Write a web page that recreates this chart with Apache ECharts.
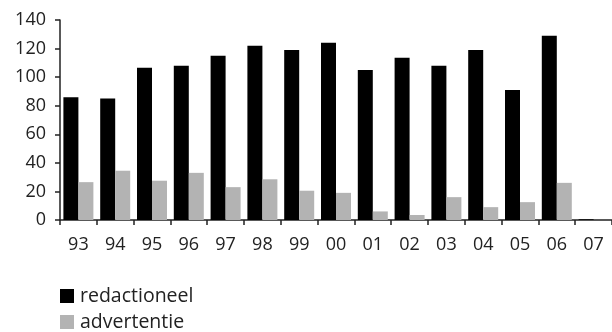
<!DOCTYPE html>
<html>
<head>
<meta charset="utf-8">
<script src="https://cdn.jsdelivr.net/npm/echarts@6/dist/echarts.min.js"></script>
<style>
html,body{margin:0;padding:0;background:#fff;}
#chart{width:612px;height:332px;}
</style>
</head>
<body>
<div id="chart"></div>
<script>
const categories = ['93','94','95','96','97','98','99','00','01','02','03','04','05','06','07'];
const redactioneel = [86, 85, 106.5, 108, 115, 122, 119, 124, 105, 113.5, 108, 119, 91, 129, 0.5];
const advertentie = [26.5, 34.5, 27.5, 33, 23, 28.5, 20.5, 19, 6, 3.5, 16, 9, 12.5, 26, 0];
const seriesNames = ['redactioneel', 'advertentie'];

const FONT = '"Open Sans", sans-serif';
const chart = echarts.init(document.getElementById('chart'), null, {renderer: 'canvas'});
chart.setOption({
  animation: false,
  backgroundColor: '#fff',
  grid: {left: 60, top: 20, width: 555, height: 200, containLabel: false},
  legend: {
    orient: 'vertical', left: 60, top: 286, padding: 0, height: 60,
    itemWidth: 14, itemHeight: 14, itemGap: 6,
    icon: 'rect',
    data: seriesNames,
    textStyle: {fontFamily: FONT, fontSize: 19.5, lineHeight: 20, color: '#222', padding: [0,0,0,1]}
  },
  xAxis: {
    type: 'category', data: categories,
    axisLine: {lineStyle: {color: '#222', width: 1.5}},
    axisTick: {show: true, length: 5, lineStyle: {color: '#222', width: 1.5}},
    axisLabel: {fontFamily: FONT, fontSize: 18, color: '#222', margin: 16}
  },
  yAxis: {
    type: 'value', min: 0, max: 140, interval: 20,
    splitLine: {show: false},
    axisLine: {show: true, lineStyle: {color: '#222', width: 1.5}},
    axisTick: {show: true, length: 5, lineStyle: {color: '#222', width: 1.5}},
    axisLabel: {fontFamily: FONT, fontSize: 18, color: '#222', margin: 14}
  },
  series: [
    {name: seriesNames[0], type: 'bar', data: redactioneel, barWidth: 15, barGap: '0%', itemStyle: {color: '#000'}},
    {name: seriesNames[1], type: 'bar', data: advertentie, barWidth: 15, barGap: '0%', itemStyle: {color: '#b3b3b3'}}
  ]
});
</script>
</body>
</html>
